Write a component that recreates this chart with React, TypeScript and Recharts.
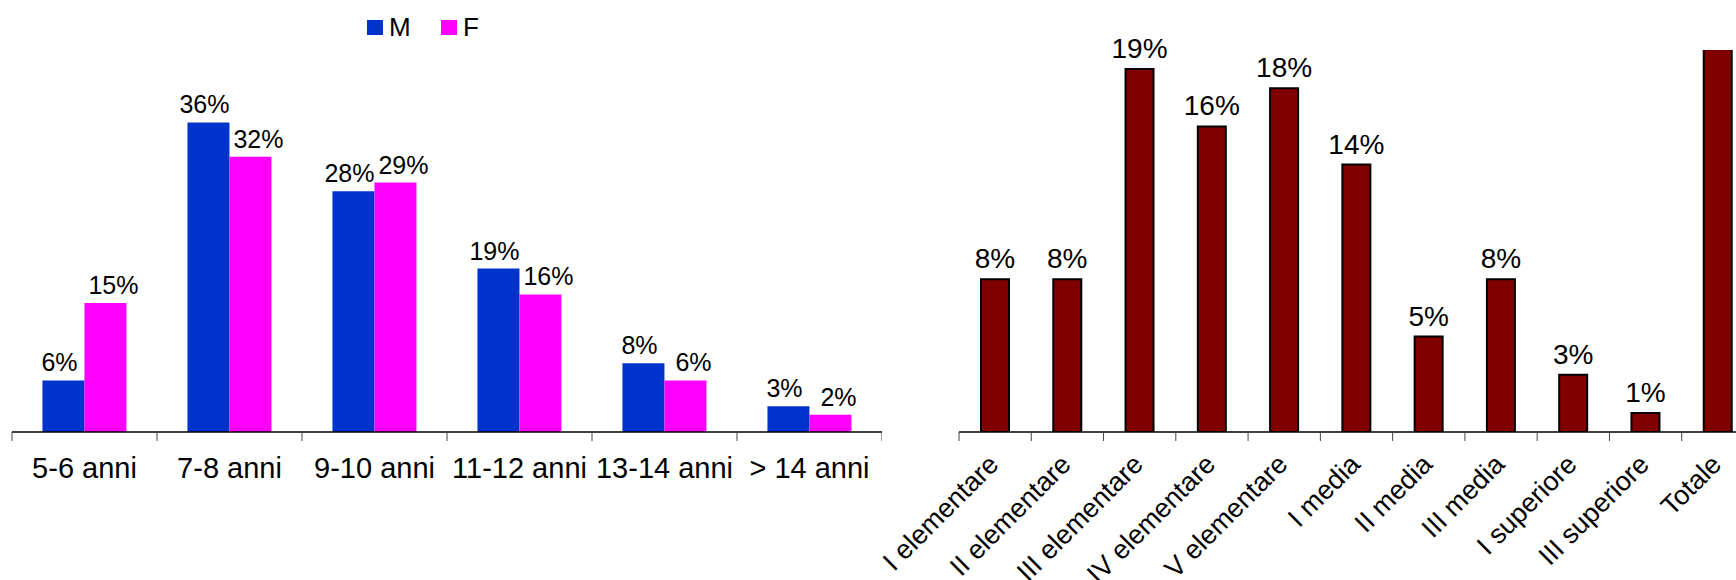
import React from 'react';
import { BarChart, Bar, XAxis, YAxis, LabelList } from 'recharts';

// Fasce d'età, percentuali per maschi e femmine
const ageGroups = ['5-6 anni', '7-8 anni', '9-10 anni', '11-12 anni', '13-14 anni', '> 14 anni'];
const maleShare = [6, 36, 28, 19, 8, 3];
const femaleShare = [15, 32, 29, 16, 6, 2];

// Classe frequentata
const schoolYears = [
  'I elementare', 'II elementare', 'III elementare', 'IV elementare', 'V elementare',
  'I media', 'II media', 'III media', 'I superiore', 'III superiore', 'Totale'
];
const schoolShare = [8, 8, 19, 16, 18, 14, 5, 8, 3, 1, 100];

const FONT = '"Liberation Sans", Arial, Helvetica, sans-serif';
const BLUE = '#0033CC';
const PINK = '#FF00FF';
const MAROON = '#800000';

const AGE_MAX = 40;
const SCHOOL_MAX = 20;

const ageData = ageGroups.map((name, i) => ({ name, M: maleShare[i], F: femaleShare[i] }));
const schoolData = schoolYears.map((name, i) => ({ name, value: schoolShare[i] }));

const pct = (v: any) => `${v}%`;

// left chart geometry
const LEFT_W = 882;
const LEFT_MARGIN = { top: 88, right: 0, left: 12, bottom: 0 };
const AGE_BAND = (LEFT_W - LEFT_MARGIN.left - LEFT_MARGIN.right) / ageGroups.length;

// right chart geometry (runs past the window edge, Totale is cut)
const RIGHT_X = 840;
const RIGHT_W = 914;
const RIGHT_MARGIN = { top: 50, right: 0, left: 119, bottom: 0 };
const SCHOOL_BAND = (RIGHT_W - RIGHT_MARGIN.left - RIGHT_MARGIN.right) / schoolYears.length;

const AgeTick = ({ x, y, payload, index }: any) => {
  const half = AGE_BAND / 2;
  return (
    <g>
      <line x1={x - half} x2={x - half} y1={y} y2={y + 9} stroke="#444" strokeWidth={1} />
      {index === ageGroups.length - 1 && (
        <line x1={x + half} x2={x + half} y1={y} y2={y + 9} stroke="#444" strokeWidth={1} />
      )}
      <text x={x} y={y + 46} textAnchor="middle" fontSize={29} fontFamily={FONT} fill="#000">
        {payload.value}
      </text>
    </g>
  );
};

const SchoolTick = ({ x, y, payload, index }: any) => {
  const half = SCHOOL_BAND / 2;
  return (
    <g>
      <line x1={x - half} x2={x - half} y1={y} y2={y + 9} stroke="#444" strokeWidth={1} />
      {index === schoolYears.length - 1 && (
        <line x1={x + half} x2={x + half} y1={y} y2={y + 9} stroke="#444" strokeWidth={1} />
      )}
      <text
        transform={`translate(${x + 5}, ${y + 34}) rotate(-45)`}
        textAnchor="end"
        fontSize={27}
        fontFamily={FONT}
        fill="#000"
      >
        {payload.value}
      </text>
    </g>
  );
};

// paired labels are pushed apart a little so they don't collide
const ageLabel = (shift: number) => (props: any) => {
  const box = props.viewBox ?? props;
  if (box == null || props.value == null) return null;
  return (
    <text
      x={box.x + box.width / 2 + shift}
      y={box.y - 9}
      textAnchor="middle"
      fontSize={25}
      fontFamily={FONT}
      fill="#000"
    >
      {pct(props.value)}
    </text>
  );
};

// no label for a bar that runs off the top of the plot
const schoolLabel = (props: any) => {
  const box = props.viewBox ?? props;
  if (box == null || props.value == null || Number(props.value) > SCHOOL_MAX) return null;
  return (
    <text
      x={box.x + box.width / 2}
      y={box.y - 11}
      textAnchor="middle"
      fontSize={28}
      fontFamily={FONT}
      fill="#000"
    >
      {pct(props.value)}
    </text>
  );
};

const legendItems = [
  { label: 'M', color: BLUE, left: 367 },
  { label: 'F', color: PINK, left: 441 },
];

export default function App() {
  return (
    <div style={{ position: 'fixed', left: 0, top: 0, width: 1736, height: 580, overflow: 'hidden', background: '#fff' }}>
      {/* Legenda */}
      {legendItems.map(item => (
        <div key={item.label} style={{ position: 'absolute', left: item.left, top: 12, display: 'flex', alignItems: 'center' }}>
          <div style={{ width: 16, height: 15, background: item.color }} />
          <span style={{ marginLeft: 6, fontFamily: FONT, fontSize: 26, lineHeight: '30px', color: '#000' }}>{item.label}</span>
        </div>
      ))}

      {/* Età per sesso */}
      <div style={{ position: 'absolute', left: 0, top: 0 }}>
        <BarChart width={LEFT_W} height={580} data={ageData} margin={LEFT_MARGIN} barGap={0} barCategoryGap="21%">
          <XAxis
            dataKey="name"
            height={148}
            interval={0}
            tickSize={0}
            tickMargin={0}
            tickLine={false}
            axisLine={{ stroke: '#000', strokeWidth: 1.5 }}
            tick={<AgeTick />}
          />
          <YAxis type="number" domain={[0, AGE_MAX]} hide />
          <Bar dataKey="M" fill={BLUE} isAnimationActive={false}>
            <LabelList dataKey="M" content={ageLabel(-4)} />
          </Bar>
          <Bar dataKey="F" fill={PINK} isAnimationActive={false}>
            <LabelList dataKey="F" content={ageLabel(8)} />
          </Bar>
        </BarChart>
      </div>

      {/* Classe frequentata */}
      <div style={{ position: 'absolute', left: RIGHT_X, top: 0 }}>
        <BarChart width={RIGHT_W} height={580} data={schoolData} margin={RIGHT_MARGIN}>
          <XAxis
            dataKey="name"
            height={148}
            interval={0}
            tickSize={0}
            tickMargin={0}
            tickLine={false}
            axisLine={{ stroke: '#000', strokeWidth: 1.5 }}
            tick={<SchoolTick />}
          />
          <YAxis type="number" domain={[0, SCHOOL_MAX]} allowDataOverflow hide />
          <Bar dataKey="value" fill={MAROON} stroke="#000" strokeWidth={2} barSize={28} isAnimationActive={false}>
            <LabelList dataKey="value" content={schoolLabel} />
          </Bar>
        </BarChart>
      </div>
    </div>
  );
}
